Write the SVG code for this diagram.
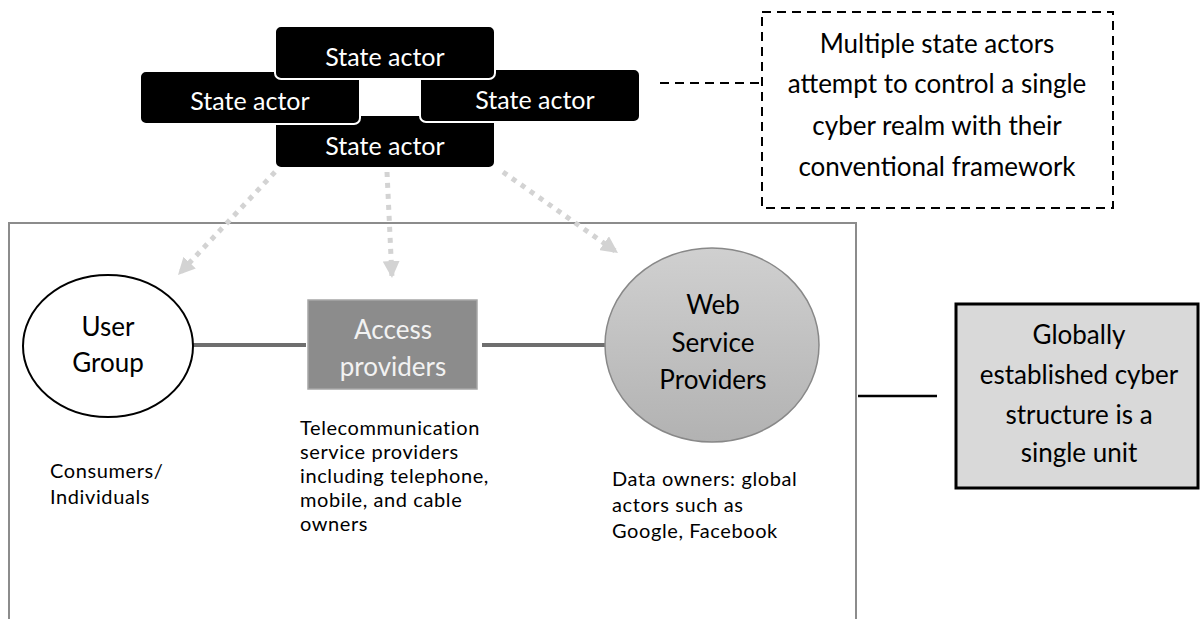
<svg xmlns="http://www.w3.org/2000/svg" width="1204" height="619" viewBox="0 0 1204 619">
<style>
  text { font-family: Lato, "Liberation Sans", sans-serif; }
  .sa rect { fill: #000; stroke: #fff; stroke-width: 2; }
  .sa text { fill: #fff; font-size: 25px; text-anchor: middle; }
  .lbl { font-size: 26px; text-anchor: middle; fill: #000; }
  .note { font-size: 20px; letter-spacing: 0.6px; fill: #000; }
  .dot { fill: none; stroke: #d3d3d3; stroke-width: 5; stroke-dasharray: 5 6; }
</style>
<defs>
  <marker id="ah" viewBox="0 0 10 10" refX="10" refY="5" markerWidth="17" markerHeight="17" markerUnits="userSpaceOnUse" orient="auto">
    <path d="M0,0 L10,5 L0,10 Z" fill="#d3d3d3"/>
  </marker>
  <linearGradient id="wg" x1="0" y1="0" x2="0" y2="1">
    <stop offset="0" stop-color="#d0d0d0"/>
    <stop offset="1" stop-color="#b2b2b2"/>
  </linearGradient>
</defs>
<rect width="1204" height="619" fill="#fff"/>

<g id="outer-frame">
  <rect x="9" y="223" width="847" height="410" fill="none" stroke="#8c8c8c" stroke-width="2"/>
</g>

<g id="connectors">
  <line class="dot" x1="275" y1="172" x2="178" y2="275" marker-end="url(#ah)"/>
  <line class="dot" x1="387" y1="172" x2="392" y2="278" marker-end="url(#ah)"/>
  <line class="dot" x1="503" y1="172" x2="618" y2="253" marker-end="url(#ah)"/>
  <line x1="193" y1="345" x2="306" y2="345" stroke="#6e6e6e" stroke-width="4"/>
  <line x1="482" y1="345" x2="606" y2="345" stroke="#6e6e6e" stroke-width="4"/>
  <line x1="660" y1="83" x2="760" y2="83" stroke="#000" stroke-width="2" stroke-dasharray="9 6"/>
  <line x1="858" y1="396" x2="937" y2="396" stroke="#000" stroke-width="2.5"/>
</g>

<g id="state-actor-bottom" class="sa">
  <rect x="275" y="115" width="220" height="53" rx="6"/>
  <text x="385" y="155">State actor</text>
</g>
<g id="state-actor-left" class="sa">
  <rect x="140" y="71" width="220" height="53" rx="6"/>
  <text x="250" y="110">State actor</text>
</g>
<g id="state-actor-right" class="sa">
  <rect x="420" y="69" width="220" height="53" rx="6"/>
  <text x="535" y="109">State actor</text>
</g>
<g id="state-actor-top" class="sa">
  <rect x="275" y="26" width="220" height="53" rx="6"/>
  <text x="385" y="66">State actor</text>
</g>

<g id="note-box">
  <rect x="762" y="12" width="351" height="196" fill="#fff" stroke="#000" stroke-width="2" stroke-dasharray="9 6"/>
  <text class="lbl" x="937" y="53">Multiple state actors</text>
  <text class="lbl" x="937" y="93">attempt to control a single</text>
  <text class="lbl" x="937" y="135">cyber realm with their</text>
  <text class="lbl" x="937" y="176">conventional framework</text>
</g>

<g id="user-group">
  <ellipse cx="108" cy="346" rx="85" ry="71" fill="#fff" stroke="#000" stroke-width="2"/>
  <text class="lbl" x="108" y="336">User</text>
  <text class="lbl" x="108" y="372">Group</text>
  <text class="note" x="50" y="478">Consumers/</text>
  <text class="note" x="50" y="504">Individuals</text>
</g>

<g id="access-providers">
  <rect x="308" y="300" width="169" height="89" fill="#8c8c8c" stroke="#a6a6a6" stroke-width="1.5"/>
  <text class="lbl" x="393" y="339" style="fill:#f2f2f2">Access</text>
  <text class="lbl" x="393" y="376" style="fill:#f2f2f2">providers</text>
  <text class="note" x="300" y="435">Telecommunication</text>
  <text class="note" x="300" y="459">service providers</text>
  <text class="note" x="300" y="483">including telephone,</text>
  <text class="note" x="300" y="507">mobile, and cable</text>
  <text class="note" x="300" y="531">owners</text>
</g>

<g id="web-service-providers">
  <ellipse cx="712" cy="345" rx="107" ry="97" fill="url(#wg)" stroke="#888" stroke-width="1.5"/>
  <text class="lbl" x="713" y="314">Web</text>
  <text class="lbl" x="713" y="352">Service</text>
  <text class="lbl" x="713" y="389">Providers</text>
  <text class="note" x="612" y="486">Data owners: global</text>
  <text class="note" x="612" y="512">actors such as</text>
  <text class="note" x="612" y="538">Google, Facebook</text>
</g>

<g id="global-structure">
  <rect x="956" y="304" width="242" height="184" fill="#d9d9d9" stroke="#000" stroke-width="3"/>
  <text class="lbl" x="1079" y="344">Globally</text>
  <text class="lbl" x="1079" y="384">established cyber</text>
  <text class="lbl" x="1079" y="424">structure is a</text>
  <text class="lbl" x="1079" y="462">single unit</text>
</g>
</svg>
